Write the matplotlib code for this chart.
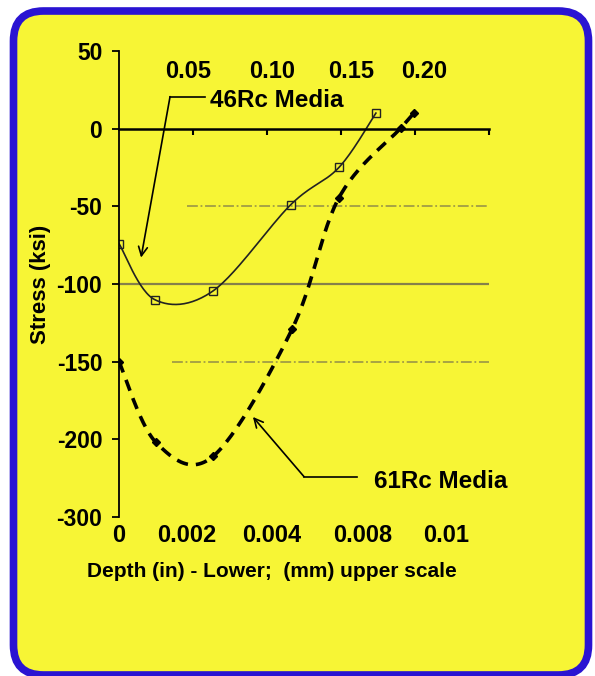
import numpy as np
import matplotlib
matplotlib.use("Agg")
import matplotlib.pyplot as plt
from matplotlib.patches import FancyBboxPatch

plt.rcParams['font.family'] = ['Liberation Sans', 'DejaVu Sans']
plt.rcParams['font.weight'] = 'bold'

# data (depth in mm, stress in ksi)
depth_46 = [0.0, 0.024, 0.0635, 0.116, 0.1486, 0.1736]
stress_46 = [-74, -110, -104.5, -49, -25, 10]
depth_61 = [0.0, 0.025, 0.0635, 0.117, 0.1486, 0.1905, 0.1993]
stress_61 = [-150, -202, -211, -129, -44.5, 0.5, 10]

y_ticks = [50, 0, -50, -100, -150, -200, -250]
y_ticklabels = ["50", "0", "-50", "-100", "-150", "-200", "-300"]
x_ticks = [0.05, 0.10, 0.15, 0.20, 0.25]
upper_labels = ["0.05", "0.10", "0.15", "0.20"]
upper_pos = [0.047, 0.1035, 0.157, 0.206]
lower_labels = ["0", "0.002", "0.004", "0.008", "0.01"]
lower_pos = [0.0, 0.046, 0.1035, 0.165, 0.221]

YELLOW = '#f7f535'
BLUE = '#2a14d2'
GRID = '#85804a'


def smooth(x, y, n=30):
    # Catmull-Rom spline through the points (like a smoothed line in a spreadsheet)
    p = np.column_stack([x, y]).astype(float)
    p = np.vstack([p[0], p, p[-1]])
    out = []
    t = np.linspace(0, 1, n)[:, None]
    for i in range(1, len(p) - 2):
        p0, p1, p2, p3 = p[i - 1], p[i], p[i + 1], p[i + 2]
        seg = 0.5 * ((2 * p1) + (-p0 + p2) * t + (2 * p0 - 5 * p1 + 4 * p2 - p3) * t ** 2
                     + (-p0 + 3 * p1 - 3 * p2 + p3) * t ** 3)
        out.append(seg)
    out = np.vstack(out)
    return out[:, 0], out[:, 1]


fig = plt.figure(figsize=(5.95, 6.76), dpi=100, facecolor='white')

# background panel with rounded blue border
bg = fig.add_axes([0, 0, 1, 1], zorder=0)
bg.set_xlim(0, 595)
bg.set_ylim(0, 676)
bg.axis('off')
bg.add_patch(FancyBboxPatch((13.5, 1), 575, 664,
                            boxstyle='round,pad=0,rounding_size=30',
                            fc=YELLOW, ec=BLUE, lw=5.5))

ax = fig.add_axes([0.2, 0.2352, 0.6218, 0.6894], zorder=1)
ax.set_facecolor('none')
ax.set_xlim(0, 0.25)
ax.set_ylim(-250, 50)

for s in ['top', 'right']:
    ax.spines[s].set_visible(False)
ax.spines['bottom'].set_position(('data', 0))
ax.spines['bottom'].set_linewidth(1.8)
ax.spines['left'].set_linewidth(1.3)

ax.set_yticks(y_ticks)
ax.set_yticklabels(y_ticklabels, fontsize=16.5, fontweight='bold')
ax.tick_params(axis='y', length=5, width=1.3, pad=7)
ax.set_xticks(x_ticks)
ax.set_xticklabels([])
ax.tick_params(axis='x', length=4, width=1.5)

# grid lines
ax.plot([0.046, 0.25], [-50, -50], color=GRID, lw=1.3, ls=(0, (6, 1.5, 1, 1.5)), alpha=0.75)
ax.plot([0, 0.25], [-100, -100], color=GRID, lw=1.6)
ax.plot([0.036, 0.25], [-150, -150], color=GRID, lw=1.3, ls=(0, (6, 1.5, 1, 1.5)), alpha=0.75)

# series
sx, sy = smooth(depth_46, stress_46)
ax.plot(sx, sy, color='#222222', lw=1.2)
ax.plot(depth_46, stress_46, ls='none', marker='s', ms=6, mfc='none', mec='#222222', mew=1)

sx, sy = smooth(depth_61, stress_61)
ax.plot(sx, sy, color='black', lw=2.6, ls=(0, (3.2, 2.2)))
ax.plot(depth_61, stress_61, ls='none', marker='D', ms=4.5, color='black')

# annotations
ax.text(0.0615, 18, '46Rc Media', fontsize=17.5, fontweight='bold', va='center', ha='left')
ax.plot([0.0345, 0.058], [20.6, 20.6], color='black', lw=1.2)
ax.annotate('', xy=(0.0149, -83), xytext=(0.0345, 20.6),
            arrowprops=dict(arrowstyle='->', lw=1.2, color='black',
                            mutation_scale=16, shrinkA=0, shrinkB=0))

ax.text(0.172, -227, '61Rc Media', fontsize=17.5, fontweight='bold', va='center', ha='left')
ax.plot([0.125, 0.161], [-224, -224], color='black', lw=1.2)
ax.annotate('', xy=(0.0905, -185.6), xytext=(0.125, -224),
            arrowprops=dict(arrowstyle='->', lw=1.2, color='black',
                            mutation_scale=16, shrinkA=0, shrinkB=0))

# upper (mm) and lower (in) scale labels
for p, lab in zip(upper_pos, upper_labels):
    ax.text(p, 0.955, lab, transform=ax.get_xaxis_transform(), fontsize=17,
            fontweight='bold', ha='center', va='center')
for p, lab in zip(lower_pos, lower_labels):
    ax.text(p, -0.039, lab, transform=ax.get_xaxis_transform(), fontsize=17,
            fontweight='bold', ha='center', va='center', clip_on=False)

ax.text(0.414, -0.118, 'Depth (in) - Lower;  (mm) upper scale', transform=ax.transAxes,
        fontsize=15, fontweight='bold', ha='center', va='center')
ax.set_ylabel('Stress (ksi)', fontsize=16, fontweight='bold')
ax.yaxis.set_label_coords(-0.185, 0.5)

fig.savefig('out.png', dpi=100)
